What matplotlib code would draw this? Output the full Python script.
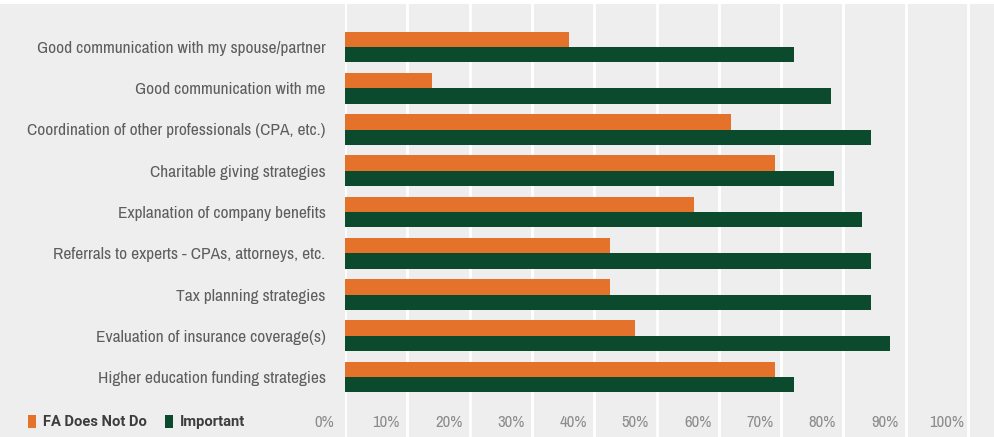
import matplotlib.pyplot as plt
from matplotlib.patches import Rectangle
from matplotlib import font_manager

# 資料
categories = [
    'Good communication with my spouse/partner',
    'Good communication with me',
    'Coordination of other professionals (CPA, etc.)',
    'Charitable giving strategies',
    'Explanation of company benefits',
    'Referrals to experts - CPAs, attorneys, etc.',
    'Tax planning strategies',
    'Evaluation of insurance coverage(s)',
    'Higher education funding strategies',
]
fa_does_not_do = [36, 14, 62, 69, 56, 42.5, 42.5, 46.5, 69]
important = [72, 78, 84.5, 78.5, 83, 84.5, 84.5, 87.5, 72]
tick_values = [0, 10, 20, 30, 40, 50, 60, 70, 80, 90, 100]
tick_labels = ['0%', '10%', '20%', '30%', '40%', '50%', '60%', '70%', '80%', '90%', '100%']

ORANGE = '#e5722a'
GREEN = '#0b4a2d'
BG = '#eeeeee'

# 找窄體字型
names = sorted({f.name for f in font_manager.fontManager.ttflist})
narrow = [n for n in names if 'Narrow' in n or 'Condensed' in n]
FAMILY = narrow[:1] + ['DejaVu Sans']
plt.rcParams['font.family'] = FAMILY
plt.rcParams['font.stretch'] = 'condensed'

W, H = 994, 437
fig = plt.figure(figsize=(W / 100, H / 100), dpi=100, facecolor=BG)

# 軸: 0% 在 x=345px, 每 10% 約 62.3px
left = 345 / W
ax = fig.add_axes([left, 0, 1 - left, 1])
ax.set_facecolor(BG)
px_per_pct = 6.23
ax.set_xlim(0, (W - 345) / px_per_pct)

row_px = 41.25
first_px = 47
ax.set_ylim((H - first_px) / row_px, -first_px / row_px)

y = list(range(len(categories)))
bh = 0.375
ax.barh([i - bh / 2 for i in y], fa_does_not_do, height=bh, color=ORANGE, label='FA Does Not Do', zorder=3)
ax.barh([i + bh / 2 for i in y], important, height=bh, color=GREEN, label='Important', zorder=3)

# 格線
ax.set_xticks(tick_values)
ax.set_xticklabels([])
ax.grid(axis='x', color='white', linewidth=2, zorder=1)
ax.tick_params(axis='x', length=0)
for s in ax.spines.values():
    s.set_visible(False)

ax.set_yticks(y)
ax.set_yticklabels(categories, fontsize=12.5, color='#5e5e5e')
ax.tick_params(axis='y', length=0, pad=14)

# 刻度標籤 (原圖往左偏)
label_y = (422 - first_px) / row_px
for v, t in zip(tick_values, tick_labels):
    ax.text(v - 21 / px_per_pct, label_y, t, ha='center', va='center',
            fontsize=12, color='#8c8c8c', zorder=4)

# 圖例
fig.legend(loc='center left', bbox_to_anchor=(22 / W, 1 - 422 / H), ncol=2,
           frameon=False, handlelength=0.55, handleheight=1.0,
           handletextpad=0.5, columnspacing=1.2, borderaxespad=0,
           prop={'family': ['Roboto', 'DejaVu Sans'], 'weight': 'bold', 'size': 10.6})
for t in fig.legends[0].get_texts():
    t.set_color('#3d3d3d')

# 頂端白條 (標題被裁掉)
fig.patches.append(Rectangle((0, 1 - 4 / H), 1, 4 / H, transform=fig.transFigure,
                             facecolor='white', edgecolor='none', zorder=10))

fig.savefig('out.png', dpi=100, facecolor=BG)
